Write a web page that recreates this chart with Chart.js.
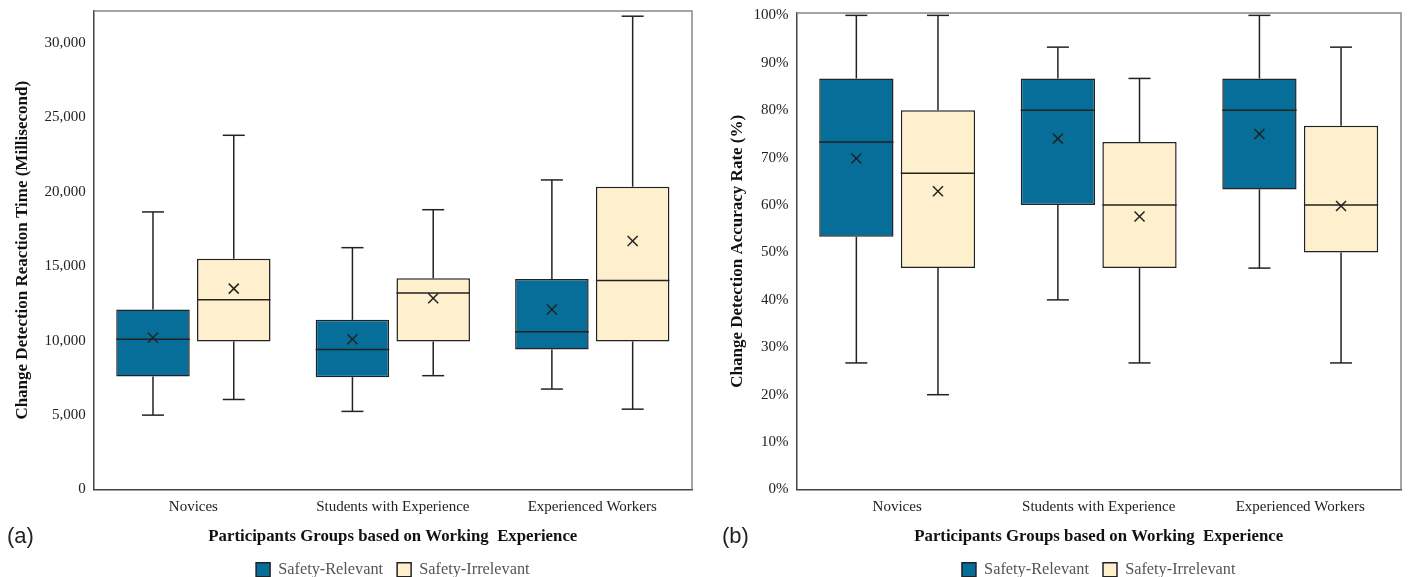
<!DOCTYPE html>
<html>
<head>
<meta charset="utf-8">
<script src="https://cdn.jsdelivr.net/npm/chart.js@4.4.1/dist/chart.umd.min.js"></script>
<style>
  html, body { margin: 0; padding: 0; background: #fff; }
  #wrap { position: relative; width: 1408px; height: 577px; }
  .panel { position: absolute; top: 0; width: 704px; height: 577px; }
  #panelA { left: 0; }
  #panelB { left: 704px; }
  .tag { position: absolute; top: 523px; font-family: 'Liberation Sans', Arial, sans-serif; font-size: 22px; color: #222; }
</style>
</head>
<body>
<div id="wrap">
  <div class="panel" id="panelA"><canvas id="chartA"></canvas></div>
  <div class="panel" id="panelB"><canvas id="chartB"></canvas></div>
  <div class="tag" style="left:7px">(a)</div>
  <div class="tag" style="left:722px">(b)</div>
</div>
<script>
const groups = ['Novices', 'Students with Experience', 'Experienced Workers'];
const seriesNames = ['Safety-Relevant', 'Safety-Irrelevant'];
const seriesColors = ['#066e98', '#fff0cd'];

// each row: [min, q1, median, q3, max, mean]
const rtRelevant = [
  [5000, 7600, 10100, 12100, 18650, 10200],
  [5250, 7550, 9400, 11400, 16250, 10100],
  [6750, 9400, 10600, 14150, 20800, 12100],
];
const rtIrrelevant = [
  [6050, 9950, 12750, 15500, 23800, 13500],
  [7650, 9950, 13200, 14200, 18800, 12850],
  [5400, 9950, 14050, 20350, 31800, 16700],
];
const accRelevant = [
  [26.7, 53.3, 73.3, 86.7, 100, 69.8],
  [40.0, 60.0, 80.0, 86.7, 93.3, 74.0],
  [46.7, 63.3, 80.0, 86.7, 100, 75.0],
];
const accIrrelevant = [
  [20.0, 46.7, 66.7, 80.0, 100, 62.9],
  [26.7, 46.7, 60.0, 73.3, 86.7, 57.6],
  [26.7, 50.0, 60.0, 76.7, 93.3, 59.8],
];

const rtTicks = [0, 5000, 10000, 15000, 20000, 25000, 30000];
const accTicks = [0, 10, 20, 30, 40, 50, 60, 70, 80, 90, 100];

const serif = "'Liberation Serif', 'Times New Roman', serif";

// whiskers, median and mean drawn on top of the floating IQR bars
const boxPlot = {
  id: 'boxPlot',
  afterDatasetsDraw(chart) {
    const { ctx, scales: { y } } = chart;
    ctx.save();
    ctx.strokeStyle = '#222';
    ctx.lineWidth = 1.5;
    const line = (x1, y1, x2, y2) => {
      ctx.beginPath(); ctx.moveTo(x1, y1); ctx.lineTo(x2, y2); ctx.stroke();
    };
    chart.data.datasets.forEach((ds, di) => {
      chart.getDatasetMeta(di).data.forEach((bar, i) => {
        const [mn, q1, md, q3, mx, mean] = ds.stats[i];
        const x = bar.x, half = bar.width / 2, cap = 11;
        const yMin = y.getPixelForValue(mn), yQ1 = y.getPixelForValue(q1);
        const yMd = y.getPixelForValue(md), yQ3 = y.getPixelForValue(q3);
        const yMax = y.getPixelForValue(mx), yMean = y.getPixelForValue(mean);
        line(x, yQ3, x, yMax); line(x - cap, yMax, x + cap, yMax);
        line(x, yQ1, x, yMin); line(x - cap, yMin, x + cap, yMin);
        line(x - half, yMd, x + half, yMd);
        const m = 5;
        line(x - m, yMean - m, x + m, yMean + m);
        line(x - m, yMean + m, x + m, yMean - m);
      });
    });
    ctx.restore();
  },
  afterDraw(chart) {
    const { ctx, chartArea: a } = chart;
    ctx.save();
    ctx.strokeStyle = '#888';
    ctx.lineWidth = 1.5;
    ctx.beginPath();
    ctx.moveTo(a.left, a.top); ctx.lineTo(a.right, a.top); ctx.lineTo(a.right, a.bottom);
    ctx.stroke();
    ctx.restore();
  }
};

function makePanel(canvasId, relevant, irrelevant, yTitle, yScale, padding) {
  const datasets = [relevant, irrelevant].map((rows, i) => ({
    label: seriesNames[i],
    data: rows.map(r => [r[1], r[3]]),
    stats: rows,
    backgroundColor: seriesColors[i],
    borderColor: '#222',
    borderWidth: 1.5,
    borderSkipped: false,
    categoryPercentage: 0.81,
    barPercentage: 0.91,
  }));

  return new Chart(document.getElementById(canvasId), {
    type: 'bar',
    data: { labels: groups, datasets },
    plugins: [boxPlot],
    options: {
      responsive: true,
      maintainAspectRatio: false,
      animation: false,
      layout: { padding },
      plugins: {
        tooltip: { enabled: false },
        legend: {
          position: 'bottom',
          fullSize: false,
          labels: {
            boxWidth: 14,
            boxHeight: 14,
            padding: 14,
            color: '#555',
            font: { family: serif, size: 16.3 },
          },
        },
      },
      scales: {
        x: {
          grid: { display: false, drawTicks: false },
          border: { color: '#444', width: 1.5 },
          ticks: { color: '#222', padding: 9, font: { family: serif, size: 15 } },
          title: {
            display: true,
            text: 'Participants Groups based on Working  Experience',
            color: '#111',
            padding: { top: 1, bottom: 1 },
            font: { family: serif, size: 16.8, weight: 'bold' },
          },
        },
        y: {
          min: yScale.min,
          max: yScale.max,
          afterBuildTicks: scale => {
            scale.ticks = yScale.ticks.map(v => ({ value: v }));
          },
          grid: {
            display: true,
            drawOnChartArea: false,
            drawTicks: true,
            tickLength: 8,
            color: 'rgba(0,0,0,0)',
          },
          border: { color: '#444', width: 1.5 },
          ticks: {
            callback: yScale.format,
            color: '#222',
            padding: 0,
            font: { family: serif, size: 15 },
          },
          title: {
            display: true,
            text: yTitle,
            color: '#111',
            padding: yScale.titlePadding,
            font: { family: serif, size: 17, weight: 'bold' },
          },
        },
      },
    },
  });
}

makePanel('chartA', rtRelevant, rtIrrelevant, 'Change Detection Reaction Time (Millisecond)', {
  min: 0,
  max: 32150,
  ticks: rtTicks,
  format: v => v.toLocaleString('en-US'),
  titlePadding: { top: 6, bottom: 12 },
}, { left: 6, right: 12, top: 11, bottom: -11 });

makePanel('chartB', accRelevant, accIrrelevant, 'Change Detection Accuracy Rate (%)', {
  min: 0,
  max: 100.5,
  ticks: accTicks,
  format: v => v + '%',
  titlePadding: { top: 7, bottom: 6 },
}, { left: 16, right: 7, top: 13, bottom: -11 });
</script>
</body>
</html>
